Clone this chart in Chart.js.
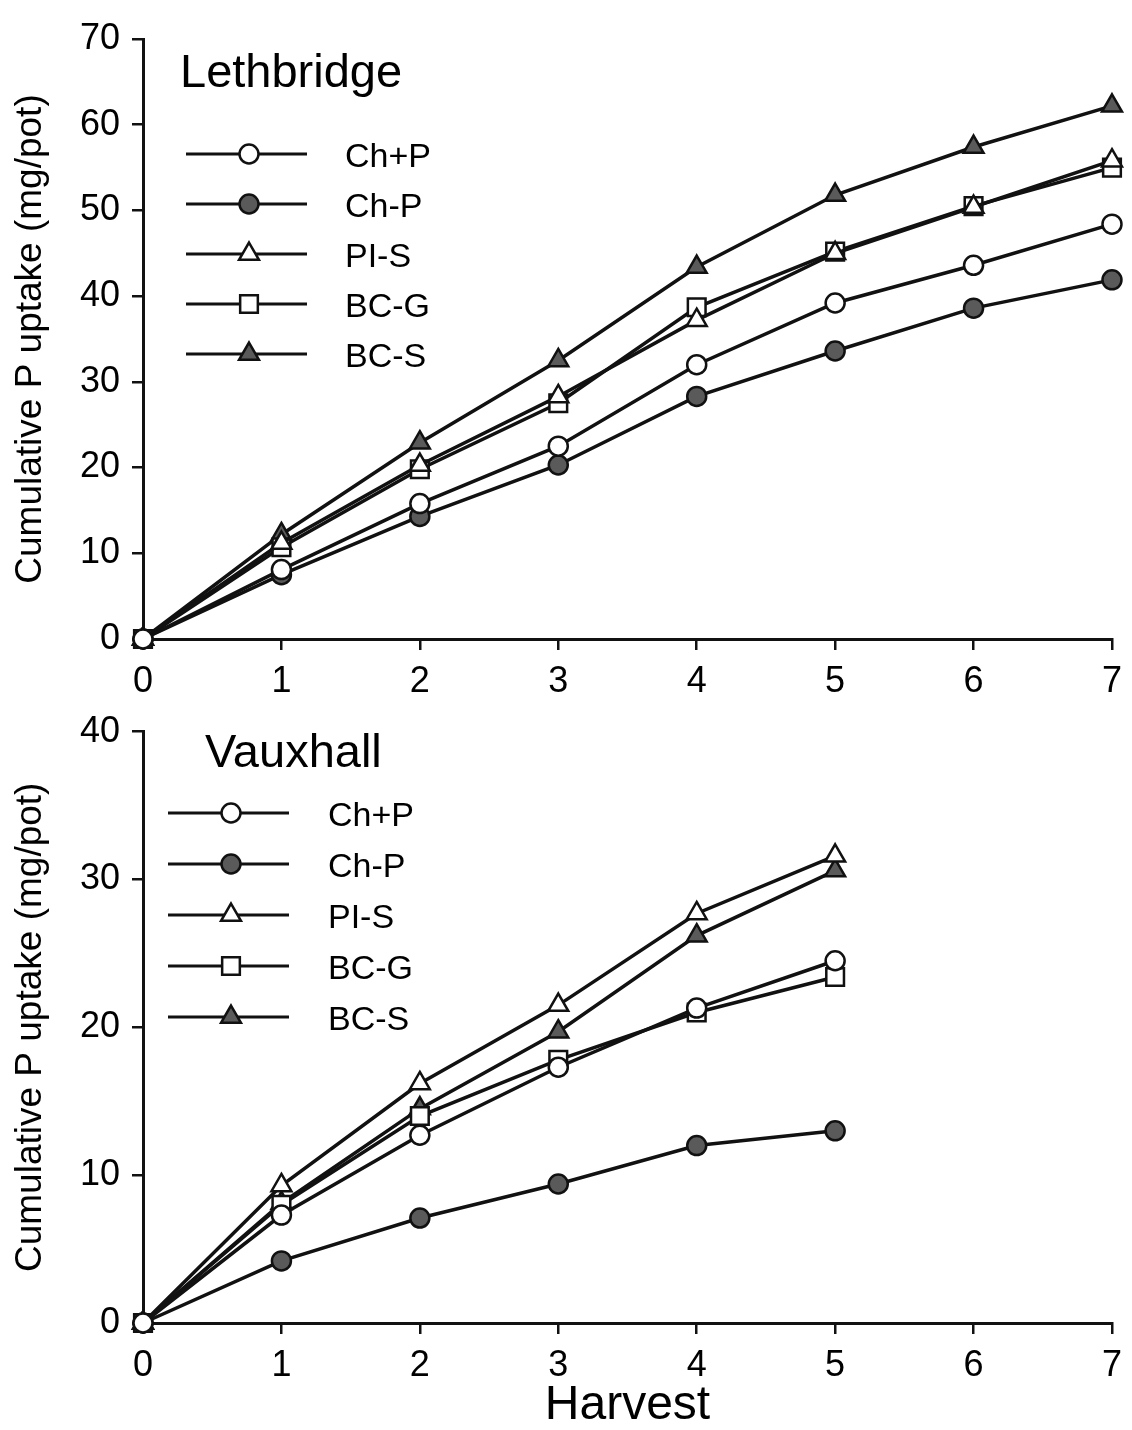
<!DOCTYPE html>
<html>
<head>
<meta charset="utf-8">
<script src="https://cdn.jsdelivr.net/npm/chart.js@4.4.1/dist/chart.umd.min.js"></script>
<style>
    body { margin: 0; background: #fff; }
    #wrap { position: relative; width: 1132px; height: 1430px; }
    .box { position: absolute; left: 0; }
</style>
</head>
<body>
<div id="wrap">
    <div class="box" style="top:0"><canvas id="chartTop" width="1132" height="700"></canvas></div>
    <div class="box" style="top:698px"><canvas id="chartBottom" width="1132" height="732"></canvas></div>
</div>
<script>
// data
const harvestTicks = [0, 1, 2, 3, 4, 5, 6, 7];
const seriesNames = ["Ch+P", "Ch-P", "PI-S", "BC-G", "BC-S"];

// Lethbridge (harvest 0..7)
const lethChPlus = [0, 8.1, 15.8, 22.5, 32.0, 39.2, 43.6, 48.4];
const lethChMinus = [0, 7.5, 14.3, 20.3, 28.3, 33.6, 38.6, 41.9];
const lethPlS = [0, 11.2, 20.3, 28.3, 37.2, 45.0, 50.4, 55.8];
const lethBCG = [0, 10.7, 19.8, 27.5, 38.7, 45.2, 50.5, 55.0];
const lethBCS = [0, 12.2, 22.9, 32.5, 43.4, 51.8, 57.4, 62.2];

// Vauxhall (harvest 0..5)
const vauxChPlus = [0, 7.3, 12.7, 17.3, 21.3, 24.5];
const vauxChMinus = [0, 4.2, 7.1, 9.4, 12.0, 13.0];
const vauxPlS = [0, 9.3, 16.2, 21.5, 27.7, 31.6];
const vauxBCG = [0, 8.0, 14.0, 17.8, 21.0, 23.4];
const vauxBCS = [0, 8.1, 14.5, 19.7, 26.2, 30.6];

const FONT = "'Liberation Sans', Arial, Helvetica, sans-serif";
const INK = "#111";
const DOT = "#5a5a5a";

// marker look per series
const markerStyles = [
    { style: "circle", radius: 9.5, fill: "#fff" },
    { style: "circle", radius: 9.5, fill: DOT },
    { style: "triangle", radius: 11.5, fill: "#fff" },
    { style: "rect", radius: 12.5, fill: "#fff" },
    { style: "triangle", radius: 11.5, fill: DOT },
];

function makeDatasets(seriesList) {
    return seriesList.map((vals, i) => ({
        label: seriesNames[i],
        data: vals.map((v, k) => ({ x: harvestTicks[k], y: v })),
        borderColor: INK,
        borderWidth: 3.5,
        pointStyle: markerStyles[i].style,
        pointRadius: markerStyles[i].radius,
        pointHoverRadius: markerStyles[i].radius,
        pointBackgroundColor: markerStyles[i].fill,
        pointBorderColor: INK,
        pointBorderWidth: 2.5,
        tension: 0,
        clip: false,
    }));
}

function drawMarker(ctx, m, x, y) {
    ctx.beginPath();
    if (m.style === "circle") {
        ctx.arc(x, y, m.radius, 0, Math.PI * 2);
    } else if (m.style === "rect") {
        const s = Math.SQRT1_2 * m.radius;
        ctx.rect(x - s, y - s, 2 * s, 2 * s);
    } else {
        const r = m.radius;
        ctx.moveTo(x, y - r);
        ctx.lineTo(x + r * Math.cos(Math.PI / 6), y + r / 2);
        ctx.lineTo(x - r * Math.cos(Math.PI / 6), y + r / 2);
        ctx.closePath();
    }
    ctx.fillStyle = m.fill;
    ctx.fill();
    ctx.lineWidth = 2.5;
    ctx.strokeStyle = INK;
    ctx.stroke();
}

// site name and the line+marker key inside the plot
const inlineLegend = {
    id: "inlineLegend",
    afterDraw(chart, args, opts) {
        const ctx = chart.ctx;
        ctx.save();
        ctx.fillStyle = "#000";
        ctx.font = "47px " + FONT;
        ctx.textAlign = "left";
        ctx.textBaseline = "alphabetic";
        ctx.fillText(opts.title, opts.titleX, opts.titleY);
        ctx.font = "34px " + FONT;
        ctx.textBaseline = "middle";
        seriesNames.forEach((name, i) => {
            const y = opts.y0 + i * opts.dy;
            ctx.beginPath();
            ctx.moveTo(opts.x0, y);
            ctx.lineTo(opts.x1, y);
            ctx.lineWidth = 3;
            ctx.strokeStyle = INK;
            ctx.stroke();
            drawMarker(ctx, markerStyles[i], opts.markX, y);
            ctx.fillStyle = "#000";
            ctx.fillText(name, opts.textX, y + 4);
        });
        ctx.restore();
    },
};

function makeChart(id, seriesList, yMax, topPad, xHeight, legendOpts, showXTitle) {
    const ctx = document.getElementById(id).getContext("2d");
    return new Chart(ctx, {
        type: "line",
        data: { datasets: makeDatasets(seriesList) },
        options: {
            responsive: false,
            animation: false,
            events: [],
            layout: { padding: { top: topPad, right: 15, left: 0, bottom: 0 } },
            plugins: {
                legend: { display: false },
                tooltip: { enabled: false },
                inlineLegend: legendOpts,
            },
            scales: {
                x: {
                    type: "linear",
                    min: 0,
                    max: 7,
                    afterBuildTicks: (s) => { s.ticks = harvestTicks.map((v) => ({ value: v })); },
                    afterFit: (s) => { s.height = xHeight; },
                    border: { display: true, color: INK, width: 3 },
                    grid: { display: true, drawOnChartArea: false, drawTicks: true, tickLength: 11, color: INK, lineWidth: 2.5 },
                    ticks: { color: "#000", font: { family: FONT, size: 36 }, padding: 10, maxRotation: 0 },
                    title: {
                        display: showXTitle,
                        text: "Harvest",
                        color: "#000",
                        font: { family: FONT, size: 48, lineHeight: 1 },
                        padding: { top: 0, bottom: 0 },
                    },
                },
                y: {
                    min: 0,
                    max: yMax,
                    ticks: { stepSize: 10, color: "#000", font: { family: FONT, size: 36 }, padding: 12 },
                    afterFit: (s) => { s.width = 143; },
                    border: { display: true, color: INK, width: 3 },
                    grid: { display: true, drawOnChartArea: false, drawTicks: true, tickLength: 11, color: INK, lineWidth: 2.5 },
                    title: {
                        display: true,
                        text: "Cumulative P uptake (mg/pot)",
                        color: "#000",
                        font: { family: FONT, size: 37 },
                        padding: { top: 9, bottom: 0 },
                    },
                },
            },
        },
        plugins: [inlineLegend],
    });
}

var topChart = makeChart(
    "chartTop",
    [lethChPlus, lethChMinus, lethPlS, lethBCG, lethBCS],
    70, 39, 61,
    { title: "Lethbridge", titleX: 180, titleY: 87, x0: 186, x1: 307, markX: 249, textX: 345, y0: 154, dy: 50 },
    false
);

var bottomChart = makeChart(
    "chartBottom",
    [vauxChPlus, vauxChMinus, vauxPlS, vauxBCG, vauxBCS],
    40, 23, 107,
    { title: "Vauxhall", titleX: 205, titleY: 69, x0: 168, x1: 289, markX: 231, textX: 328, y0: 115, dy: 51 },
    true
);
</script>
</body>
</html>
